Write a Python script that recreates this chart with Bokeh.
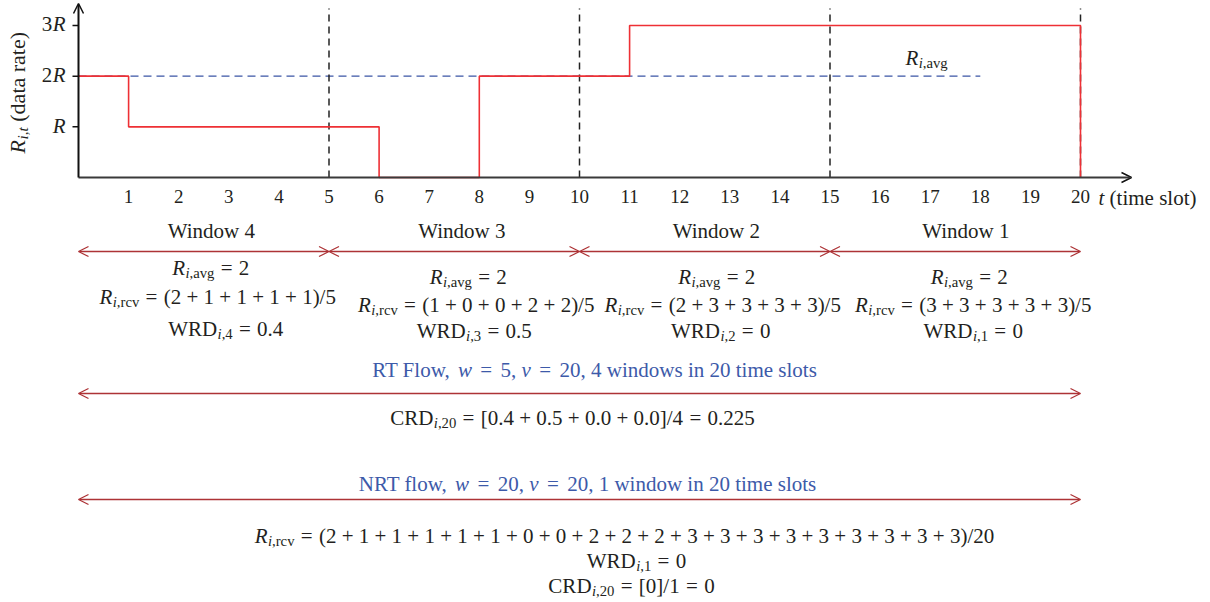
from bokeh.plotting import figure
from bokeh.models import ColumnDataSource, Range1d, Arrow, OpenHead
from bokeh.embed import file_html
from bokeh.resources import INLINE
from bokeh.core.properties import value

# ---------------- data ----------------
slots = list(range(1, 21))
rates = [2, 1, 1, 1, 1, 1, 0, 0, 2, 2, 2, 3, 3, 3, 3, 3, 3, 3, 3, 3]
r_avg = 2
window_size = 5
n_slots = 20
window_names = [4, 3, 2, 1]
ytick_vals = [1, 2, 3]
ytick_labels = ["R", "2R", "3R"]
avg_line_end = 18

# ---------------- derived values ----------------
windows = [rates[k * window_size:(k + 1) * window_size] for k in range(len(window_names))]
wrds = [round(max(0.0, (r_avg - sum(wv) / window_size) / r_avg), 3) for wv in windows]
crd = round(sum(wrds) / len(wrds), 4)
nrt_wrd = round(max(0.0, (r_avg - sum(rates) / n_slots) / r_avg), 3)

# ---------------- geometry (pixel <-> data) ----------------
W, H = 1210, 602
X0PX, Y0PY = 78.0, 177.0
SX, SY = 50.1, 50.67
TEXT_DY = -7.0   # vertical correction of text anchor (pixels)


def X(px):
    return (px - X0PX) / SX


def Y(py):
    return (Y0PY - py) / SY


FONT = "Liberation Serif"
INK = "#231f20"
BLUE_TXT = "#3d5aa9"
RED = "#ee3035"
ARROW_RED = "#ad3336"
FS = 21

p = figure(width=W, height=H, x_range=Range1d(X(0), X(W)), y_range=Range1d(Y(H), Y(0)),
           output_backend="svg", toolbar_location=None, min_border=0,
           x_axis_location=None, y_axis_location=None,
           background_fill_color="white", border_fill_color="white")
p.outline_line_color = None
p.grid.visible = False

# ---------------- text layout helpers ----------------
REG = {' ': 250, '(': 333, ')': 333, '+': 564, ',': 250, '.': 250, '/': 278, '=': 564,
       '[': 333, ']': 333, 'C': 667, 'D': 722, 'F': 556, 'N': 722, 'R': 667, 'T': 611,
       'W': 944, 'a': 444, 'c': 444, 'd': 500, 'e': 444, 'g': 500, 'i': 278, 'l': 278,
       'm': 778, 'n': 500, 'o': 500, 'r': 333, 's': 389, 't': 278, 'v': 500, 'w': 722,
       'f': 333}
ITA = {'R': 611, 'i': 278, 't': 278, 'w': 667, 'v': 444, ',': 250, ' ': 250}
SUB_SCALE = 0.7
SUB_DROP = 0.24

T = dict(x=[], y=[], text=[], size=[], style=[], color=[], angle=[])


def seg_w(text, st, fs):
    tab = ITA if st in ('i', 'si') else REG
    size = fs * (SUB_SCALE if st in ('s', 'si') else 1)
    return sum(tab.get(c, 500) for c in text) / 1000.0 * size


def add_formula(segs, px, py, fs=FS, color=INK, align="center", angle=0.0):
    total = 0.0
    pos = []
    for t, st, g in segs:
        total += g * fs
        pos.append(total)
        total += seg_w(t, st, fs)
    start = {"center": -total / 2, "right": -total, "left": 0.0}[align]
    for (t, st, g), off in zip(segs, pos):
        d = start + off
        sub = st in ('s', 'si')
        drop = SUB_DROP * fs if sub else 0.0
        size = fs * (SUB_SCALE if sub else 1)
        if angle == 0:
            sx, sy = px + d, py + drop + TEXT_DY
        else:
            sx, sy = px + drop + TEXT_DY, py - d
        T['x'].append(X(sx))
        T['y'].append(Y(sy))
        T['text'].append(t)
        T['size'].append(f"{size:.1f}px")
        T['style'].append('italic' if st in ('i', 'si') else 'normal')
        T['color'].append(color)
        T['angle'].append(angle)


def sym(main, rest, italic_main=True):
    return [(main, 'i' if italic_main else 'n', 0), ("i", 'si', 0.02), (rest, 's', 0)]


EQ = 0.3
EQT = 0.4


def fmt(v):
    return f"{v:g}"


# ---------------- chart part ----------------
xs, ys = [], []
for i, r in enumerate(rates):
    xs += [i, i + 1]
    ys += [r, r]
xs.append(n_slots)
ys.append(0)

p.line([0, avg_line_end], [r_avg, r_avg], line_color="#3b55a5", line_width=1.4, line_dash="8 5")

bounds = [window_size * (k + 1) for k in range(len(window_names))]
p.segment(x0=bounds, x1=bounds, y0=[0] * len(bounds), y1=[Y(8)] * len(bounds),
          line_color="#222222", line_width=1.5, line_dash="7 5")

p.line(xs, ys, line_color=RED, line_width=1.6)

p.add_layout(Arrow(x_start=0, y_start=0, x_end=X(1131), y_end=0, line_color="#3a3a3a", line_width=2,
                   end=OpenHead(size=10, line_color="#111111", line_width=1.5)))
p.add_layout(Arrow(x_start=0, y_start=0, x_end=0, y_end=Y(3), line_color="#111111", line_width=2,
                   end=OpenHead(size=10, line_color="#111111", line_width=1.5)))
p.segment(x0=[X(72)] * 3, x1=[0] * 3, y0=ytick_vals, y1=ytick_vals, line_color="#111111", line_width=1.5)

for v, lab in zip(ytick_vals, ytick_labels):
    segs = []
    if lab[:-1]:
        segs.append((lab[:-1], 'n', 0))
    segs.append((lab[-1], 'i', 0.02))
    add_formula(segs, 65, 177 - v * SY + 6, 21, align="right")

p.text(x=slots, y=[Y(203 + TEXT_DY)] * len(slots), text=[str(s) for s in slots],
       text_font=value(FONT), text_font_size="19px", text_color=INK,
       text_align="center", text_baseline="alphabetic")

add_formula([("t", 'i', 0), ("(time slot)", 'n', 0.25)], 1098, 204, 21, align="left")
add_formula([("R", 'i', 0), ("i,t", 'si', 0.02), ("(data rate)", 'n', 0.25)], 24, 153, 22,
            align="left", angle=1.5707963)

add_formula(sym("R", ",avg"), 905, 64, 21, align="left")

# ---------------- windows ----------------
ARROW_Y = 251
for k in range(len(window_names)):
    a = Arrow(x_start=k * window_size, y_start=Y(ARROW_Y), x_end=(k + 1) * window_size, y_end=Y(ARROW_Y),
              line_color=ARROW_RED, line_width=1.3,
              start=OpenHead(size=10, line_color=ARROW_RED, line_width=1.3),
              end=OpenHead(size=10, line_color=ARROW_RED, line_width=1.3))
    p.add_layout(a)

label_off = [8, 8, 12, 11]
avg_off = [7, 14, 12, 14]
rcv_off = [14, 22, 18, 18]
wrd_off = [22, 20, 16, 18]
rows_base = [[274, 303, 335], [283, 311, 337], [283, 311, 337], [283, 311, 337]]

for k, name in enumerate(window_names):
    cpx = X0PX + (k + 0.5) * window_size * SX
    add_formula([(f"Window {name}", 'n', 0)], cpx + label_off[k], 237)
    b = rows_base[k]
    add_formula(sym("R", ",avg") + [("=", 'n', EQ), (fmt(r_avg), 'n', EQ)], cpx + avg_off[k], b[0])
    rcv = "(" + " + ".join(str(v) for v in windows[k]) + f")/{window_size}"
    add_formula(sym("R", ",rcv") + [("=", 'n', EQ), (rcv, 'n', EQ)], cpx + rcv_off[k], b[1])
    add_formula(sym("WRD", f",{name}", italic_main=False) + [("=", 'n', EQ), (fmt(wrds[k]), 'n', EQ)],
                cpx + wrd_off[k], b[2])

# ---------------- RT flow summary ----------------
add_formula([("RT Flow,", 'n', 0), ("w", 'i', 0.25), ("=", 'n', EQT), (f"{window_size},", 'n', EQT),
             ("v", 'i', 0.25), ("=", 'n', EQT),
             (f"{n_slots}, {len(window_names)} windows in {n_slots} time slots", 'n', EQT)],
            594, 376, color=BLUE_TXT)
for yy in (393, 499):
    p.add_layout(Arrow(x_start=0, y_start=Y(yy), x_end=n_slots, y_end=Y(yy),
                       line_color=ARROW_RED, line_width=1.3,
                       start=OpenHead(size=10, line_color=ARROW_RED, line_width=1.3),
                       end=OpenHead(size=10, line_color=ARROW_RED, line_width=1.3)))
crd_txt = "[" + " + ".join(f"{v:.1f}" for v in wrds) + f"]/{len(wrds)}"
add_formula(sym("CRD", f",{n_slots}", italic_main=False) + [("=", 'n', EQ), (crd_txt, 'n', EQ),
                                                            ("=", 'n', EQ), (fmt(crd), 'n', EQ)],
            572, 424)

# ---------------- NRT flow summary ----------------
add_formula([("NRT flow,", 'n', 0), ("w", 'i', 0.25), ("=", 'n', EQT), (f"{n_slots},", 'n', EQT),
             ("v", 'i', 0.25), ("=", 'n', EQT),
             (f"{n_slots}, 1 window in {n_slots} time slots", 'n', EQT)],
            587, 490, color=BLUE_TXT)
nrt_rcv = "(" + " + ".join(str(v) for v in rates) + f")/{n_slots}"
add_formula(sym("R", ",rcv") + [("=", 'n', EQ), (nrt_rcv, 'n', EQ)], 624, 542)
add_formula(sym("WRD", ",1", italic_main=False) + [("=", 'n', EQ), (fmt(nrt_wrd), 'n', EQ)], 636, 567)
add_formula(sym("CRD", f",{n_slots}", italic_main=False) + [("=", 'n', EQ), (f"[{fmt(nrt_wrd)}]/1", 'n', EQ),
                                                            ("=", 'n', EQ), (fmt(nrt_wrd), 'n', EQ)],
            631, 592)

src = ColumnDataSource(T)
p.text(x='x', y='y', text='text', source=src, text_font=value(FONT), text_font_size='size',
       text_font_style='style', text_color='color', angle='angle',
       text_align='left', text_baseline='alphabetic')

open("out.html", "w").write(file_html(p, INLINE))
